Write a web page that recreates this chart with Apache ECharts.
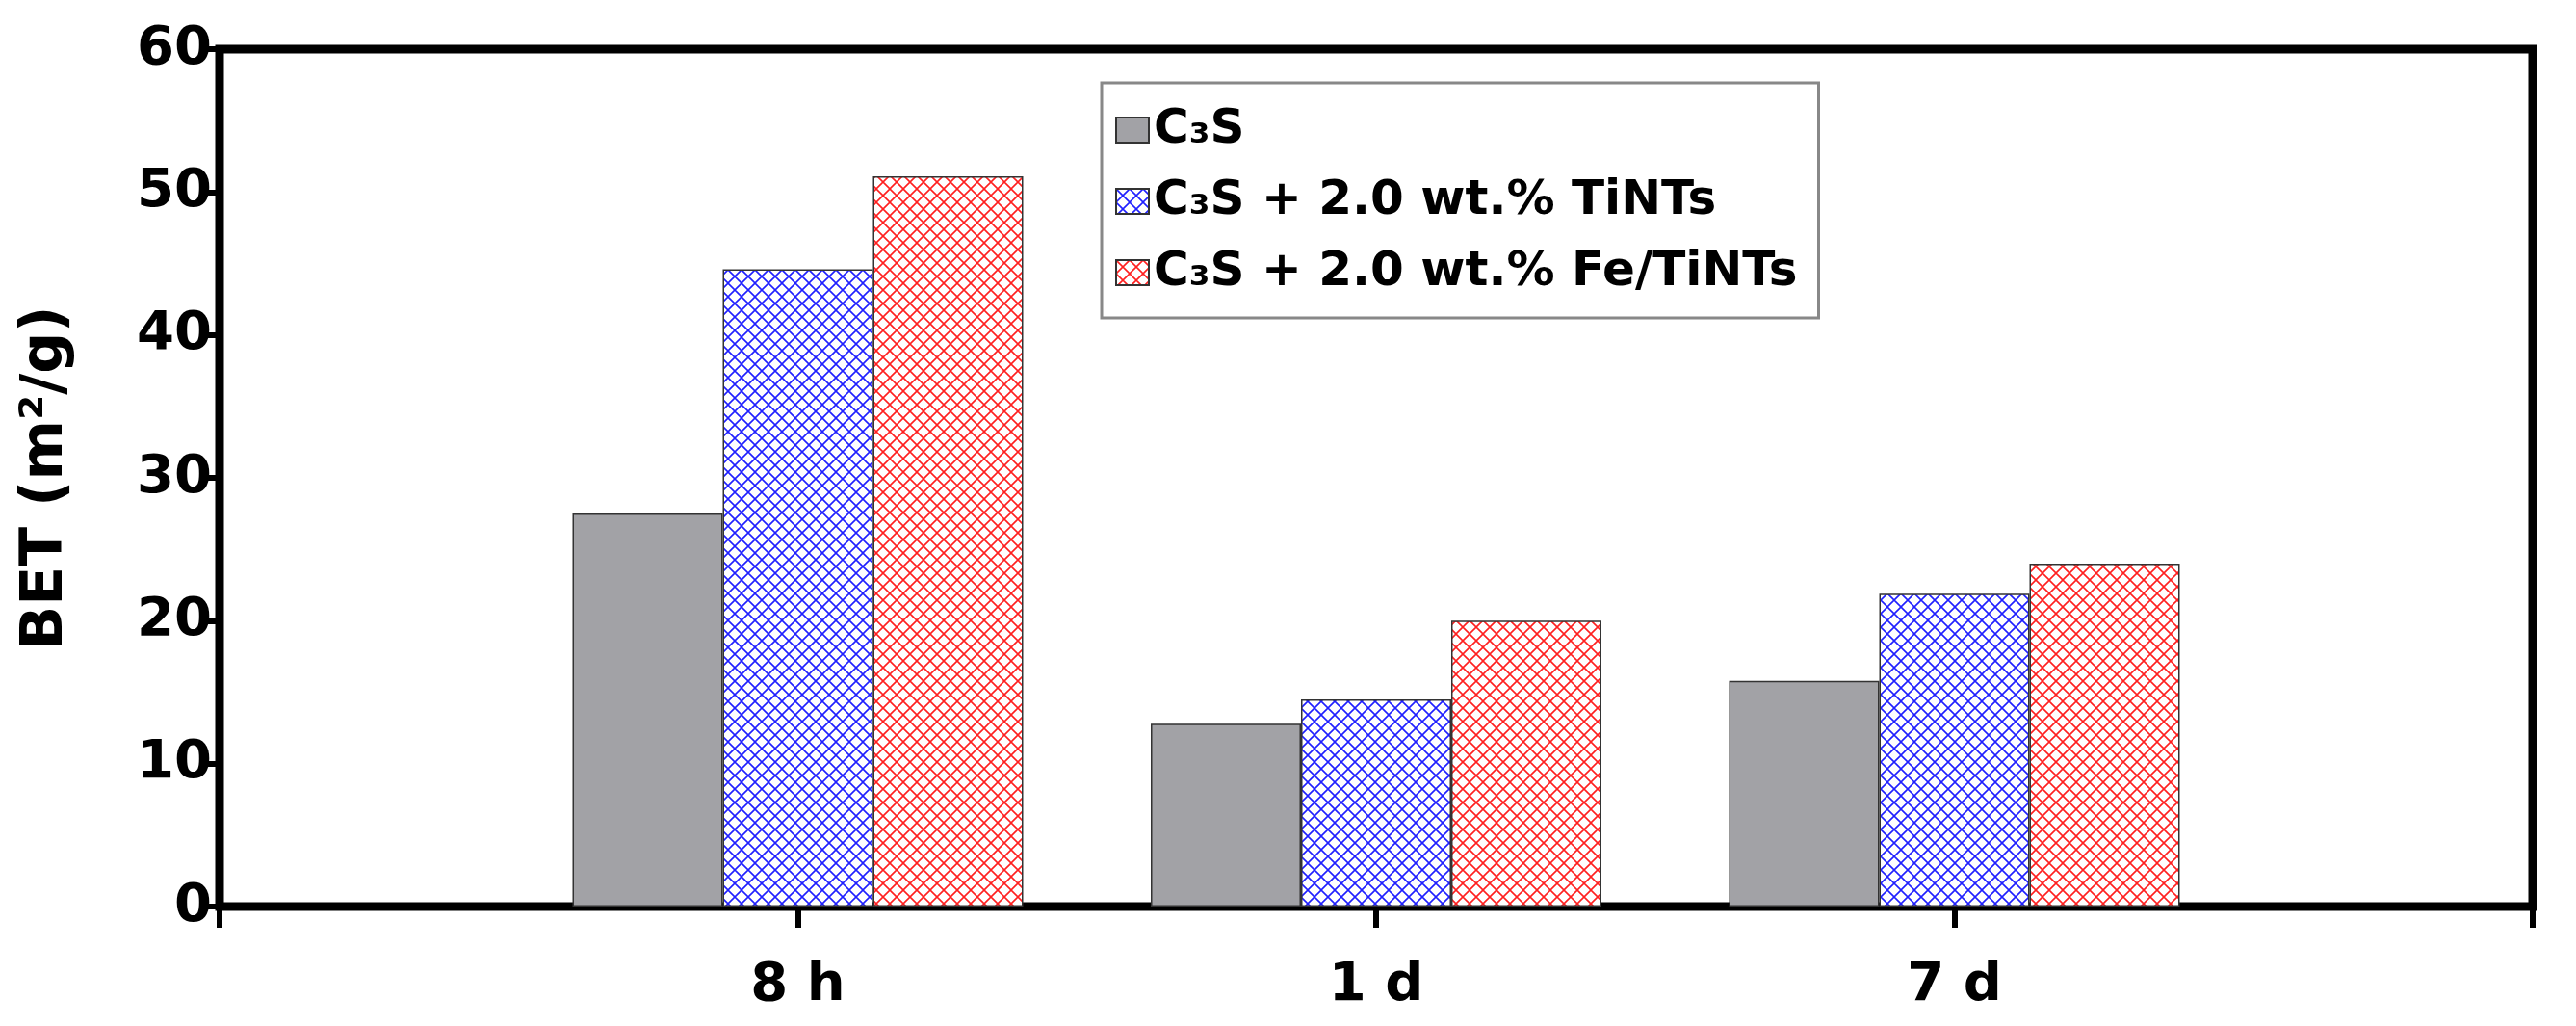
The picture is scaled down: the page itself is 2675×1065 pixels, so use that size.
<!DOCTYPE html>
<html>
<head>
<meta charset="UTF-8">
<script src="https://cdn.jsdelivr.net/npm/echarts@6/dist/echarts.min.js"></script>
<style>html,body{margin:0;background:#fff}</style>
</head>
<body>
<div id="main" style="width:2675px;height:1065px;"></div>
<script>
var categories = ['', '8 h', '1 d', '7 d', ''];
var seriesNames = ['C\u2083S', 'C\u2083S + 2.0 wt.% TiNTs', 'C\u2083S + 2.0 wt.% Fe/TiNTs'];
var c3s = [null, 27.5, 12.8, 15.8, null];
var tints = [null, 44.6, 14.5, 21.9, null];
var feTints = [null, 51.1, 20.0, 24.0, null];
var yTicks = [0, 10, 20, 30, 40, 50, 60];

// crosshatch pattern
function hatch(color) {
    var c = document.createElement('canvas');
    c.width = 14; c.height = 14;
    var g = c.getContext('2d');
    g.fillStyle = '#fff';
    g.fillRect(0, 0, 14, 14);
    g.strokeStyle = color;
    g.lineWidth = 1.6;
    g.beginPath();
    g.moveTo(0, 0); g.lineTo(14, 14);
    g.moveTo(14, 0); g.lineTo(0, 14);
    g.stroke();
    return {image: c, repeat: 'repeat'};
}

var font = 'DejaVu Sans';
var myChart = echarts.init(document.getElementById('main'));
var option = {
    animation: false,
    textStyle: {fontFamily: font},
    grid: {left: 228, right: 45, top: 51, bottom: 124, show: true, borderColor: '#000', borderWidth: 9},
    legend: {
        left: 1144, top: 86, orient: 'vertical',
        padding: [24, 22, 22, 14],
        borderColor: '#888', borderWidth: 3,
        icon: 'rect',
        itemWidth: 34, itemHeight: 26, itemGap: 24,
        textStyle: {fontSize: 50, fontWeight: 'bold', color: '#000', fontFamily: font},
        data: seriesNames
    },
    xAxis: {
        type: 'category', data: categories, boundaryGap: false,
        offset: 18,
        axisLine: {lineStyle: {color: '#000', width: 7}},
        axisTick: {length: 22, lineStyle: {width: 6, color: '#000'}},
        axisLabel: {fontSize: 56, fontWeight: 'bold', color: '#000', margin: 36}
    },
    yAxis: {
        type: 'value', min: 0, max: 60, interval: 10,
        name: 'BET (m\u00b2/g)', nameLocation: 'middle', nameGap: 150,
        nameTextStyle: {fontSize: 60, fontWeight: 'bold', color: '#000'},
        splitLine: {show: false},
        axisLine: {show: true, lineStyle: {color: '#000', width: 7}},
        axisTick: {show: true, length: 20, lineStyle: {width: 6, color: '#000'}},
        axisLabel: {fontSize: 56, fontWeight: 'bold', color: '#000', margin: 8,
            formatter: function (v) { return yTicks.indexOf(v) >= 0 ? String(v) : ''; }}
    },
    series: [
        {name: seriesNames[0], type: 'bar', data: c3s, barWidth: 156, barGap: '0%',
            itemStyle: {color: '#a2a2a6', borderColor: '#333', borderWidth: 1.5}},
        {name: seriesNames[1], type: 'bar', data: tints, barWidth: 156, barGap: '0%',
            itemStyle: {color: hatch('#2020ff'), borderColor: '#333', borderWidth: 1.5}},
        {name: seriesNames[2], type: 'bar', data: feTints, barWidth: 156, barGap: '0%',
            itemStyle: {color: hatch('#ff2020'), borderColor: '#333', borderWidth: 1.5}}
    ]
};
myChart.setOption(option);
</script>
</body>
</html>
